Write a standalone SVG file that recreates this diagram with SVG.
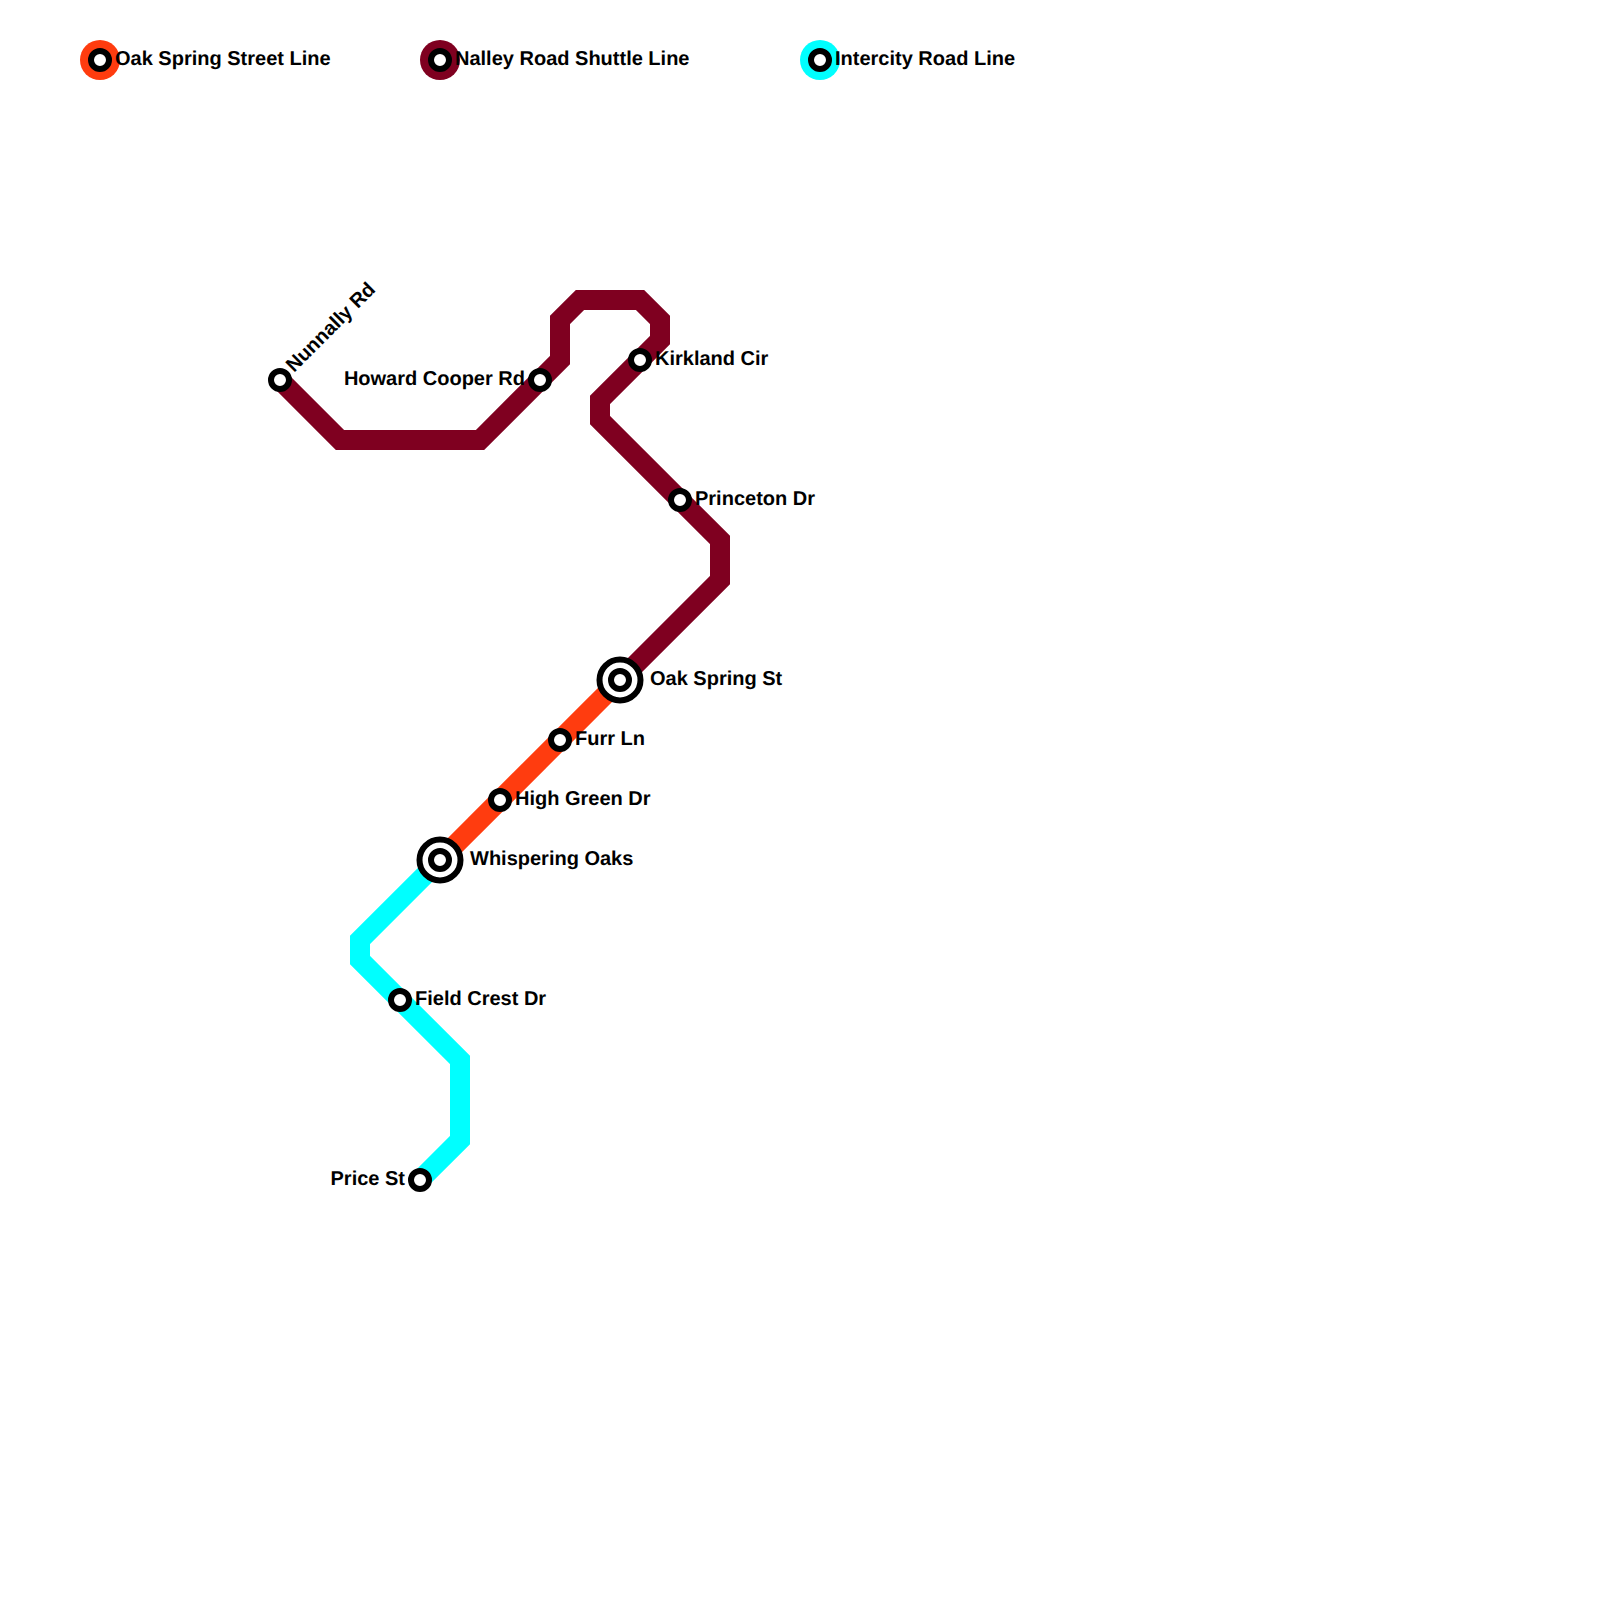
<svg xmlns="http://www.w3.org/2000/svg" width="1600" height="1600" viewBox="0 0 1600 1600">
<style>
.l{fill:none;stroke-width:20;stroke-linejoin:miter}
.s{fill:#fff;stroke:#000;stroke-width:6}
text{font-family:"Liberation Sans",Arial,sans-serif;font-size:20px;font-weight:bold;fill:#000;text-rendering:geometricPrecision}
.e{text-anchor:end}
</style>
<rect width="1600" height="1600" fill="#fff"/>
<g id="connectors">
<path class="l" stroke="#ff3c0f" d="M620 680L440 860"/>
<path class="l" stroke="#7f0020" d="M280 380L340 440H480L560 360V320L580 300H640L660 320V340L600 400V420L720 540V580L620 680"/>
<path class="l" stroke="#00ffff" d="M440 860L360 940V960L460 1060V1140L420 1180"/>
</g>
<g id="legend-oak"><circle cx="100" cy="60" r="20" fill="#ff3c0f"/><circle class="s" cx="100" cy="60" r="9"/><text x="115" y="65">Oak Spring Street Line</text></g>
<g id="legend-nalley"><circle cx="440" cy="60" r="20" fill="#7f0020"/><circle class="s" cx="440" cy="60" r="9"/><text x="455" y="65">Nalley Road Shuttle Line</text></g>
<g id="legend-intercity"><circle cx="820" cy="60" r="20" fill="#00ffff"/><circle class="s" cx="820" cy="60" r="9"/><text x="835" y="65">Intercity Road Line</text></g>
<g id="nunnally"><circle class="s" cx="280" cy="380" r="9"/><text transform="translate(294 373) rotate(-45)">Nunnally Rd</text></g>
<g id="howard"><circle class="s" cx="540" cy="380" r="9"/><text class="e" x="525" y="385">Howard Cooper Rd</text></g>
<g id="kirkland"><circle class="s" cx="640" cy="360" r="9"/><text x="655" y="365">Kirkland Cir</text></g>
<g id="princeton"><circle class="s" cx="680" cy="500" r="9"/><text x="695" y="505">Princeton Dr</text></g>
<g id="oak-spring"><circle class="s" cx="620" cy="680" r="20.5"/><circle class="s" cx="620" cy="680" r="9"/><text x="650" y="685">Oak Spring St</text></g>
<g id="furr"><circle class="s" cx="560" cy="740" r="9"/><text x="575" y="745">Furr Ln</text></g>
<g id="high-green"><circle class="s" cx="500" cy="800" r="9"/><text x="515" y="805">High Green Dr</text></g>
<g id="whispering"><circle class="s" cx="440" cy="860" r="20.5"/><circle class="s" cx="440" cy="860" r="9"/><text x="470" y="865">Whispering Oaks</text></g>
<g id="field-crest"><circle class="s" cx="400" cy="1000" r="9"/><text x="415" y="1005">Field Crest Dr</text></g>
<g id="price"><circle class="s" cx="420" cy="1180" r="9"/><text class="e" x="405" y="1185">Price St</text></g>
</svg>
